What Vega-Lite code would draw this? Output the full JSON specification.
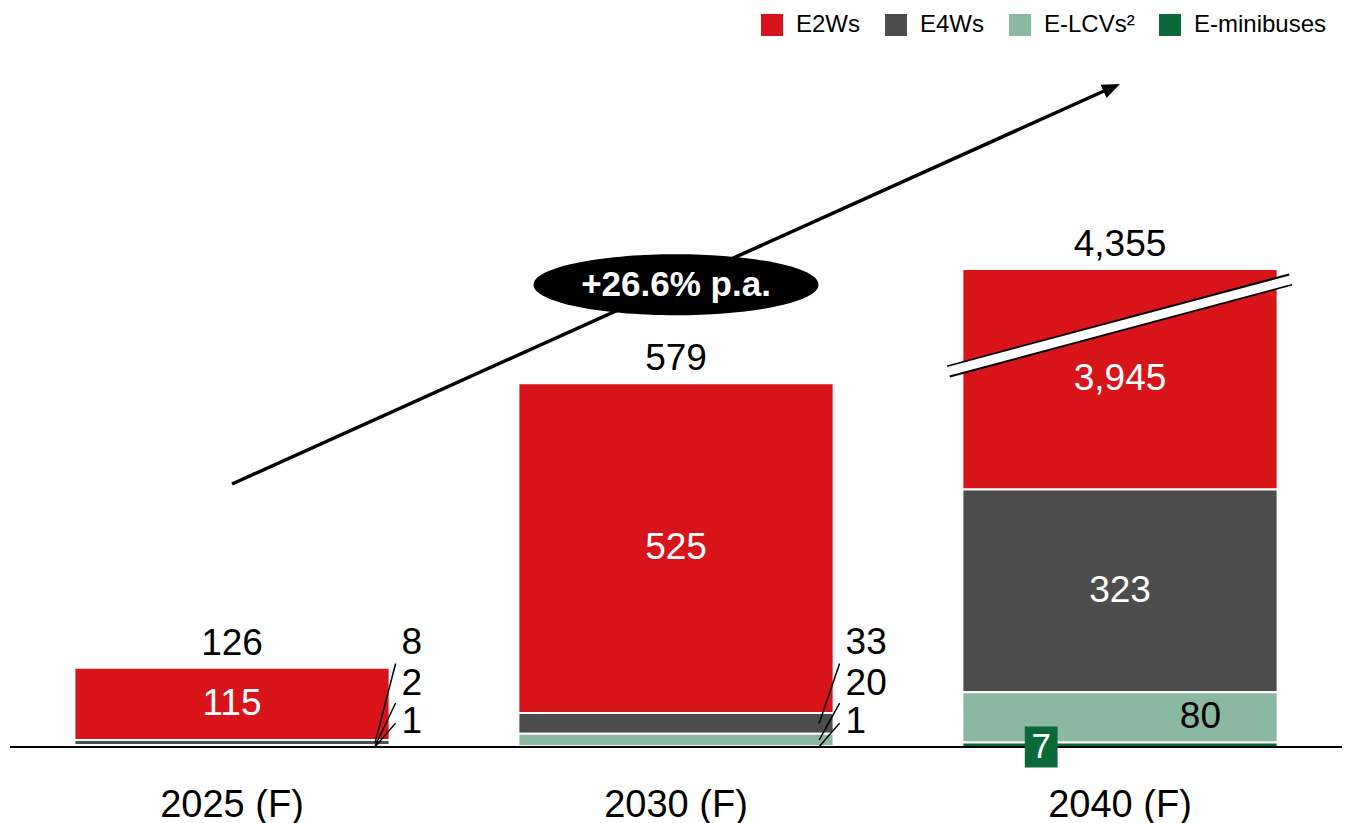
{
  "$schema": "https://vega.github.io/schema/vega-lite/v6.json",
  "width": 1332,
  "height": 735,
  "autosize": {"type": "none"},
  "padding": {"left": 10, "top": 12, "right": 5, "bottom": 76},
  "config": {
    "view": {"stroke": null},
    "font": "Liberation Sans",
    "text": {"font": "Liberation Sans"},
    "axisX": {"domain": false, "ticks": false, "tickSize": 0, "grid": false, "labelFontSize": 38, "labelPadding": 39, "labelColor": "black", "labelAngle": 0, "labelFont": "Liberation Sans"},
    "axisY": {"disable": true}
  },
  "layer": [
    {
      "data": {"values": [
        {"year": "2025 (F)", "series": "E2Ws", "value": 115},
        {"year": "2025 (F)", "series": "E4Ws", "value": 8},
        {"year": "2025 (F)", "series": "E-LCVs²", "value": 2},
        {"year": "2025 (F)", "series": "E-minibuses", "value": 1},
        {"year": "2030 (F)", "series": "E2Ws", "value": 525},
        {"year": "2030 (F)", "series": "E4Ws", "value": 33},
        {"year": "2030 (F)", "series": "E-LCVs²", "value": 20},
        {"year": "2030 (F)", "series": "E-minibuses", "value": 1},
        {"year": "2040 (F)", "series": "E2Ws", "value": 3945},
        {"year": "2040 (F)", "series": "E4Ws", "value": 323},
        {"year": "2040 (F)", "series": "E-LCVs²", "value": 80},
        {"year": "2040 (F)", "series": "E-minibuses", "value": 7}
      ]},
      "transform": [
        {"calculate": "indexof(['E-minibuses','E-LCVs²','E4Ws','E2Ws'], datum.series)", "as": "order"},
        {"stack": "value", "groupby": ["year"], "sort": [{"field": "order", "order": "ascending"}], "as": ["y0", "y1"]},
        {"calculate": "min(datum.y0, 761)", "as": "bot"},
        {"calculate": "min(datum.y1, 761)", "as": "top"}
      ],
      "mark": {"type": "bar", "stroke": "white", "strokeWidth": 2},
      "encoding": {
        "x": {"field": "year", "type": "nominal", "title": null, "scale": {"domain": ["2025 (F)", "2030 (F)", "2040 (F)"], "paddingInner": 0.29, "paddingOuter": 0.145}},
        "y": {"field": "bot", "type": "quantitative", "title": null, "scale": {"domain": [0, 1170], "nice": false}},
        "y2": {"field": "top"},
        "color": {
          "field": "series", "type": "nominal",
          "scale": {"domain": ["E2Ws", "E4Ws", "E-LCVs²", "E-minibuses"], "range": ["#D7141A", "#4D4D4D", "#8AB8A0", "#0B6838"]},
          "legend": {"title": null, "orient": "none", "legendX": 750, "legendY": 1, "direction": "horizontal", "symbolType": "square", "symbolSize": 484, "symbolStrokeWidth": 0, "labelFontSize": 24, "labelOffset": 12, "columnPadding": 23, "labelFont": "Liberation Sans", "labelColor": "black", "padding": 0}
        }
      }
    },
    {
      "data": {"values": [{}]},
      "mark": {"type": "rule", "color": "black", "strokeWidth": 2},
      "encoding": {
        "y": {"datum": 0, "type": "quantitative", "scale": {"domain": [0, 1170], "nice": false}}
      }
    },
    {
      "data": {"values": [
        {"year": "2025 (F)", "series": "E2Ws", "value": 115},
        {"year": "2025 (F)", "series": "E4Ws", "value": 8},
        {"year": "2025 (F)", "series": "E-LCVs²", "value": 2},
        {"year": "2025 (F)", "series": "E-minibuses", "value": 1},
        {"year": "2030 (F)", "series": "E2Ws", "value": 525},
        {"year": "2030 (F)", "series": "E4Ws", "value": 33},
        {"year": "2030 (F)", "series": "E-LCVs²", "value": 20},
        {"year": "2030 (F)", "series": "E-minibuses", "value": 1},
        {"year": "2040 (F)", "series": "E2Ws", "value": 3945},
        {"year": "2040 (F)", "series": "E4Ws", "value": 323},
        {"year": "2040 (F)", "series": "E-LCVs²", "value": 80},
        {"year": "2040 (F)", "series": "E-minibuses", "value": 7}
      ]},
      "transform": [
        {"calculate": "indexof(['E-minibuses','E-LCVs²','E4Ws','E2Ws'], datum.series)", "as": "order"},
        {"stack": "value", "groupby": ["year"], "sort": [{"field": "order", "order": "ascending"}], "as": ["y0", "y1"]},
        {"joinaggregate": [{"op": "sum", "field": "value", "as": "total"}], "groupby": ["year"]},
        {"calculate": "min(datum.y0, 761)", "as": "bot"},
        {"calculate": "min(datum.y1, 761)", "as": "top"},
        {"calculate": "(datum.bot + datum.top) / 2", "as": "mid"},
        {"calculate": "datum.series === 'E4Ws' ? 165 : (datum.series === 'E-LCVs²' ? 100 : 40)", "as": "labelY"},
        {"calculate": "datum.series === 'E4Ws' ? 133 : (datum.series === 'E-LCVs²' ? 70 : 38)", "as": "lineEnd"}
      ],
      "layer": [
        {
          "transform": [{"filter": "datum.series === 'E2Ws' || (datum.year === '2040 (F)' && datum.series === 'E4Ws')"}],
          "mark": {"type": "text", "color": "white", "fontSize": 37, "baseline": "middle"},
          "encoding": {
            "x": {"field": "year", "type": "nominal", "title": null, "scale": {"domain": ["2025 (F)", "2030 (F)", "2040 (F)"], "paddingInner": 0.29, "paddingOuter": 0.145}},
            "y": {"field": "mid", "type": "quantitative", "scale": {"domain": [0, 1170], "nice": false}},
            "text": {"field": "value", "type": "quantitative", "format": ","}
          }
        },
        {
          "transform": [{"filter": "datum.year === '2040 (F)' && datum.series === 'E-LCVs²'"}],
          "mark": {"type": "text", "color": "black", "fontSize": 37, "baseline": "middle"},
          "encoding": {
            "x": {"field": "year", "type": "nominal", "title": null, "bandPosition": 0.755, "scale": {"domain": ["2025 (F)", "2030 (F)", "2040 (F)"], "paddingInner": 0.29, "paddingOuter": 0.145}},
            "y": {"field": "mid", "type": "quantitative", "scale": {"domain": [0, 1170], "nice": false}},
            "text": {"field": "value", "type": "quantitative", "format": ","}
          }
        },
        {
          "transform": [{"filter": "datum.series === 'E2Ws'"}],
          "mark": {"type": "text", "color": "black", "fontSize": 37, "baseline": "alphabetic", "dy": -13},
          "encoding": {
            "x": {"field": "year", "type": "nominal", "title": null, "scale": {"domain": ["2025 (F)", "2030 (F)", "2040 (F)"], "paddingInner": 0.29, "paddingOuter": 0.145}},
            "y": {"field": "top", "type": "quantitative", "scale": {"domain": [0, 1170], "nice": false}},
            "text": {"field": "total", "type": "quantitative", "format": ","}
          }
        },
        {
          "transform": [{"filter": "datum.year !== '2040 (F)' && datum.series !== 'E2Ws'"}],
          "mark": {"type": "text", "color": "black", "fontSize": 37, "baseline": "middle", "align": "left", "dx": 12},
          "encoding": {
            "x": {"field": "year", "type": "nominal", "title": null, "bandPosition": 1, "scale": {"domain": ["2025 (F)", "2030 (F)", "2040 (F)"], "paddingInner": 0.29, "paddingOuter": 0.145}},
            "y": {"field": "labelY", "type": "quantitative", "scale": {"domain": [0, 1170], "nice": false}},
            "text": {"field": "value", "type": "quantitative", "format": ","}
          }
        },
        {
          "transform": [{"filter": "datum.year !== '2040 (F)' && datum.series !== 'E2Ws'"}],
          "mark": {"type": "rule", "color": "black", "strokeWidth": 1.5, "x2Offset": 6},
          "encoding": {
            "x": {"field": "year", "type": "nominal", "title": null, "bandPosition": 0.954, "scale": {"domain": ["2025 (F)", "2030 (F)", "2040 (F)"], "paddingInner": 0.29, "paddingOuter": 0.145}},
            "x2": {"field": "year", "bandPosition": 1},
            "y": {"field": "mid", "type": "quantitative", "scale": {"domain": [0, 1170], "nice": false}},
            "y2": {"field": "lineEnd"}
          }
        },
        {
          "transform": [{"filter": "datum.year === '2040 (F)' && datum.series === 'E-minibuses'"}],
          "mark": {"type": "point", "shape": "M-0.8,-1L0.8,-1L0.8,1L-0.8,1Z", "size": 1681, "filled": true, "color": "#0B6838", "opacity": 1, "strokeWidth": 0},
          "encoding": {
            "x": {"field": "year", "type": "nominal", "title": null, "bandPosition": 0.25, "scale": {"domain": ["2025 (F)", "2030 (F)", "2040 (F)"], "paddingInner": 0.29, "paddingOuter": 0.145}},
            "y": {"field": "bot", "type": "quantitative", "scale": {"domain": [0, 1170], "nice": false}}
          }
        },
        {
          "transform": [{"filter": "datum.year === '2040 (F)' && datum.series === 'E-minibuses'"}],
          "mark": {"type": "text", "color": "white", "fontSize": 35, "baseline": "middle"},
          "encoding": {
            "x": {"field": "year", "type": "nominal", "title": null, "bandPosition": 0.25, "scale": {"domain": ["2025 (F)", "2030 (F)", "2040 (F)"], "paddingInner": 0.29, "paddingOuter": 0.145}},
            "y": {"field": "bot", "type": "quantitative", "scale": {"domain": [0, 1170], "nice": false}},
            "text": {"field": "value", "type": "quantitative", "format": ","}
          }
        }
      ]
    },
    {
      "data": {"values": [{}]},
      "layer": [
        {
          "mark": {"type": "rule", "color": "black", "strokeWidth": 3.5, "x2Offset": -16, "y2Offset": 7},
          "encoding": {
            "x": {"datum": "2025 (F)", "type": "nominal", "bandPosition": 0.5, "scale": {"domain": ["2025 (F)", "2030 (F)", "2040 (F)"], "paddingInner": 0.29, "paddingOuter": 0.145}},
            "x2": {"datum": "2040 (F)", "bandPosition": 0.5},
            "y": {"datum": 418.7, "type": "quantitative", "scale": {"domain": [0, 1170], "nice": false}},
            "y2": {"datum": 1055.4}
          }
        },
        {
          "mark": {"type": "point", "shape": "M0,0L-1,-0.4L-1,0.4Z", "size": 1296, "angle": 335.7, "filled": true, "color": "black", "opacity": 1, "strokeWidth": 0},
          "encoding": {
            "x": {"datum": "2040 (F)", "type": "nominal", "bandPosition": 0.5, "scale": {"domain": ["2025 (F)", "2030 (F)", "2040 (F)"], "paddingInner": 0.29, "paddingOuter": 0.145}},
            "y": {"datum": 1055.4, "type": "quantitative", "scale": {"domain": [0, 1170], "nice": false}}
          }
        },
        {
          "mark": {"type": "point", "shape": "M-1,0A1,0.214 0 1,1 1,0A1,0.214 0 1,1 -1,0Z", "size": 81225, "filled": true, "color": "black", "opacity": 1, "strokeWidth": 0},
          "encoding": {
            "x": {"datum": "2030 (F)", "type": "nominal", "bandPosition": 0.5, "scale": {"domain": ["2025 (F)", "2030 (F)", "2040 (F)"], "paddingInner": 0.29, "paddingOuter": 0.145}},
            "y": {"datum": 736, "type": "quantitative", "scale": {"domain": [0, 1170], "nice": false}}
          }
        },
        {
          "mark": {"type": "text", "text": "+26.6% p.a.", "color": "white", "fontSize": 35, "fontWeight": "bold", "baseline": "middle"},
          "encoding": {
            "x": {"datum": "2030 (F)", "type": "nominal", "bandPosition": 0.5, "scale": {"domain": ["2025 (F)", "2030 (F)", "2040 (F)"], "paddingInner": 0.29, "paddingOuter": 0.145}},
            "y": {"datum": 736, "type": "quantitative", "scale": {"domain": [0, 1170], "nice": false}}
          }
        },
        {
          "mark": {"type": "rule", "color": "black", "strokeWidth": 12.5, "strokeCap": "butt", "xOffset": -14, "x2Offset": 13},
          "encoding": {
            "x": {"datum": "2040 (F)", "type": "nominal", "bandPosition": 0, "scale": {"domain": ["2025 (F)", "2030 (F)", "2040 (F)"], "paddingInner": 0.29, "paddingOuter": 0.145}},
            "x2": {"datum": "2040 (F)", "bandPosition": 1},
            "y": {"datum": 597.7, "type": "quantitative", "scale": {"domain": [0, 1170], "nice": false}},
            "y2": {"datum": 744.2}
          }
        },
        {
          "mark": {"type": "rule", "color": "white", "strokeWidth": 8.8, "strokeCap": "butt", "xOffset": -15, "x2Offset": 14},
          "encoding": {
            "x": {"datum": "2040 (F)", "type": "nominal", "bandPosition": 0, "scale": {"domain": ["2025 (F)", "2030 (F)", "2040 (F)"], "paddingInner": 0.29, "paddingOuter": 0.145}},
            "x2": {"datum": "2040 (F)", "bandPosition": 1},
            "y": {"datum": 597.7, "type": "quantitative", "scale": {"domain": [0, 1170], "nice": false}},
            "y2": {"datum": 744.2}
          }
        }
      ]
    }
  ]
}
